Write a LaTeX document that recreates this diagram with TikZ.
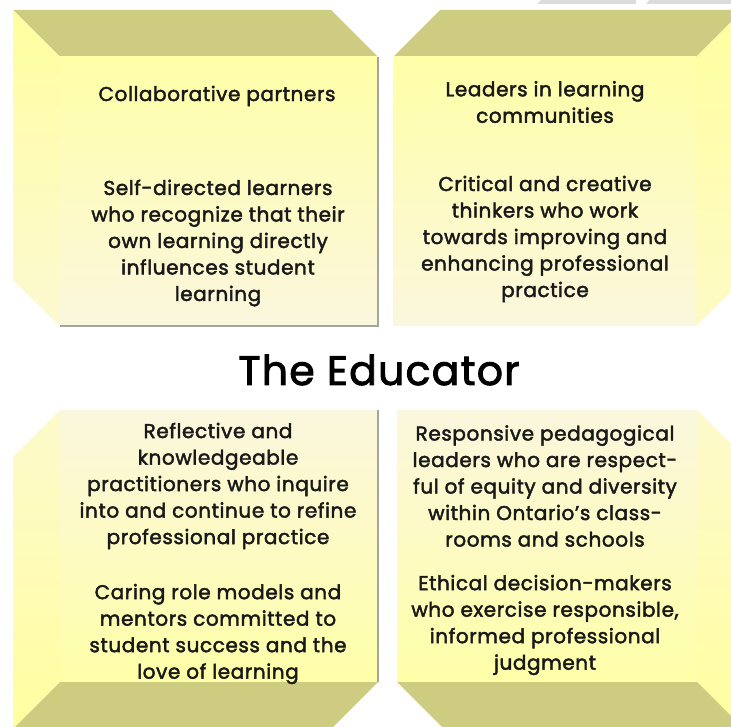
\documentclass[tikz,border=0pt]{standalone}
\usepackage{fontspec}
\setmainfont{Poppins}[FakeBold=2.2, LetterSpace=3]
\definecolor{olive}{RGB}{205,204,128}
\definecolor{yel}{RGB}{255,255,168}
\definecolor{yelside}{RGB}{255,255,160}
\definecolor{cream}{RGB}{251,247,222}
\definecolor{shadowgray}{RGB}{165,165,160}
\definecolor{wm}{RGB}{220,220,220}
\tikzset{
  bevel/.style={fill=olive, draw=none},
  bodytext/.style={align=center, inner sep=0pt, text=black!90,
    font=\fontsize{20}{26.5}\selectfont},
  shadowline/.style={draw=shadowgray, line width=1.2pt}
}
\begin{document}
\begin{tikzpicture}[x=1pt,y=-1pt]
\useasboundingbox (0,0) rectangle (731,727);
\fill[white] (0,0) rectangle (731,727);
% faint grey marks at top right
\fill[wm] (541,0) -- (636,0) -- (636,4) -- (537,4) -- cycle;
\fill[wm] (649,0) -- (731,0) -- (731,4) -- (646,4) -- cycle;

% ---------- top-left box
\fill[bevel] (13,10) -- (331,10) -- (378,57) -- (60,57) -- cycle;
\shade[top color=yelside, bottom color=cream!80!yelside] (13,10) -- (60,57) -- (60,326) -- (13,280) -- cycle;
\shade[top color=yel, bottom color=cream] (60,57) rectangle (378,326);
\draw[shadowline] (60,326) -- (378,326) -- (378,57);

% ---------- top-right box
\fill[bevel] (393,57) -- (440,10) -- (743,10) -- (696,57) -- cycle;
\shade[top color=yelside, bottom color=cream!60!yelside] (696,57) -- (743,10) -- (743,280) -- (696,326) -- cycle;
\shade[top color=yel, bottom color=cream] (393,57) rectangle (696,326);

% ---------- bottom-left box
\shade[top color=cream!70!yelside, bottom color=yelside] (13,457) -- (60,410) -- (60,682) -- (13,729) -- cycle;
\shade[top color=cream, bottom color=yel] (60,410) rectangle (378,682);
\fill[bevel] (60,682) -- (378,682) -- (331,729) -- (13,729) -- cycle;
\draw[shadowline] (378,410) -- (378,682);

% ---------- bottom-right box
\shade[top color=cream!70!yelside, bottom color=yelside] (697,410) -- (744,457) -- (744,729) -- (697,682) -- cycle;
\shade[top color=cream, bottom color=yel] (397,410) rectangle (697,682);
\fill[bevel] (397,682) -- (697,682) -- (744,729) -- (444,729) -- cycle;

% ---------- texts
\node[bodytext] (tl1) at (217,96) {Collaborative partners};
\node[bodytext] (tl2) at (218,243) {Self-directed learners\\who recognize that their\\own learning directly\\influences student\\learning};
\node[bodytext] (tr1) at (545,102) {Leaders in learning\\communities};
\node[bodytext] (tr2) at (545,239) {Critical and creative\\thinkers who work\\towards improving and\\enhancing professional\\practice};
\node[inner sep=0pt, font=\fontsize{41}{50}\selectfont] (title) at (379,370) {The Educator};
\node[bodytext] (bl1) at (218,486) {Reflective and\\knowledgeable\\practitioners who inquire\\into and continue to refine\\professional practice};
\node[bodytext] (bl2) at (218,634) {Caring role models and\\mentors committed to\\student success and the\\love of learning};
\node[bodytext] (br1) at (545,486) {Responsive pedagogical\\leaders who are respect-\\ful of equity and diversity\\within Ontario’s class-\\rooms and schools};
\node[bodytext] (br2) at (545,625) {Ethical decision-makers\\who exercise responsible,\\informed professional\\judgment};
\end{tikzpicture}
\end{document}
